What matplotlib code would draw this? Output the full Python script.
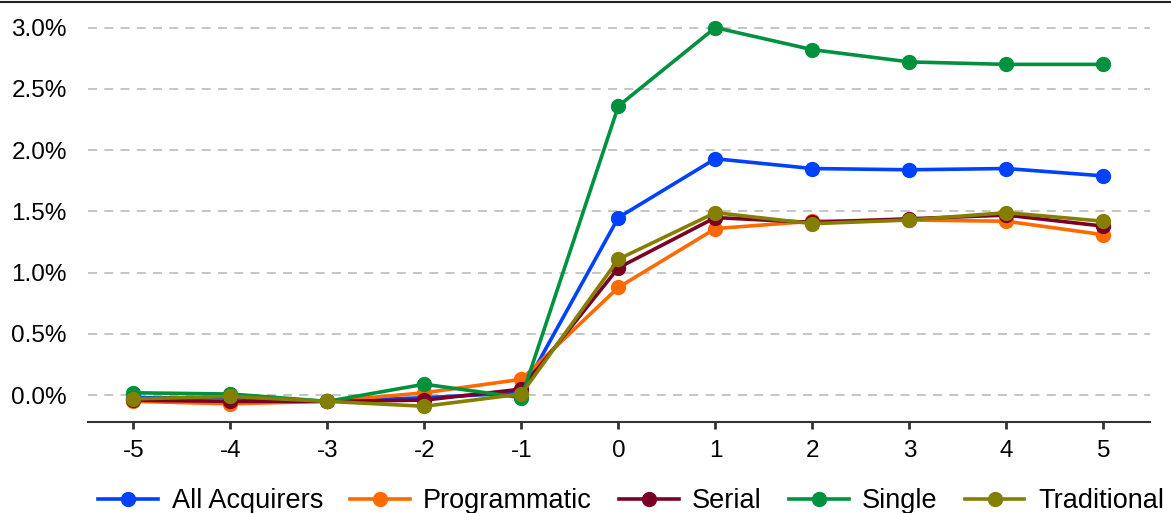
import numpy as np
import matplotlib
matplotlib.use("Agg")
import matplotlib.pyplot as plt
from matplotlib.ticker import FuncFormatter
from matplotlib.lines import Line2D

plt.rcParams['font.family'] = ['Liberation Sans', 'DejaVu Sans']
plt.rcParams['axes.unicode_minus'] = False

# event days
days = [-5, -4, -3, -2, -1, 0, 1, 2, 3, 4, 5]

# cumulative returns in percent
all_acquirers = [-0.02, -0.02, -0.05, -0.02, 0.02, 1.45, 1.93, 1.85, 1.84, 1.85, 1.79]
programmatic = [-0.05, -0.07, -0.05, 0.02, 0.13, 0.88, 1.36, 1.42, 1.43, 1.42, 1.31]
serial = [-0.04, -0.05, -0.05, -0.04, 0.05, 1.04, 1.45, 1.41, 1.44, 1.47, 1.38]
single = [0.02, 0.01, -0.05, 0.09, -0.02, 2.36, 3.00, 2.82, 2.72, 2.70, 2.70]
traditional = [-0.03, -0.01, -0.05, -0.09, 0.01, 1.11, 1.49, 1.40, 1.43, 1.49, 1.42]

names = ["All Acquirers", "Programmatic", "Serial", "Single", "Traditional"]
colors = ["#0041FF", "#FF6A00", "#7B0026", "#00913F", "#857F00"]
series = [all_acquirers, programmatic, serial, single, traditional]

fig = plt.figure(figsize=(11.71, 5.13), dpi=100)
ax = fig.add_axes([0.075, 0.177, 0.907, 0.805])

for name, col, vals in zip(names, colors, series):
    ax.plot(days, vals, color=col, lw=2.6, marker="o", markersize=10, label=name)

ax.set_xlim(-5.47, 5.48)
ax.set_ylim(-0.22, 3.15)
ax.set_xticks(days)
ax.set_yticks(np.arange(0, 3.01, 0.5))
ax.yaxis.set_major_formatter(FuncFormatter(lambda v, p: "%.1f%%" % v))

ax.grid(axis="y", color="#C0C0C0", linestyle=(0, (5, 4)), lw=1.3)
ax.set_axisbelow(True)
for s in ["top", "right", "left"]:
    ax.spines[s].set_visible(False)
ax.spines["bottom"].set_color("#333333")
ax.spines["bottom"].set_linewidth(1.5)

ax.tick_params(axis="x", length=5, width=2, color="#333333", labelsize=17.5, pad=8)
ax.tick_params(axis="y", length=0, labelsize=17.5, pad=15)

fig.legend(loc="lower center", bbox_to_anchor=(0.539, -0.05), ncol=5, frameon=False,
           fontsize=19.5, handlelength=2.2, columnspacing=1.0, handletextpad=0.5)

# dark border line at the very top of the image
fig.add_artist(Line2D([0, 1], [0.996, 0.996], transform=fig.transFigure, color="#222222", lw=1.5))

fig.savefig("out.png", dpi=100)
